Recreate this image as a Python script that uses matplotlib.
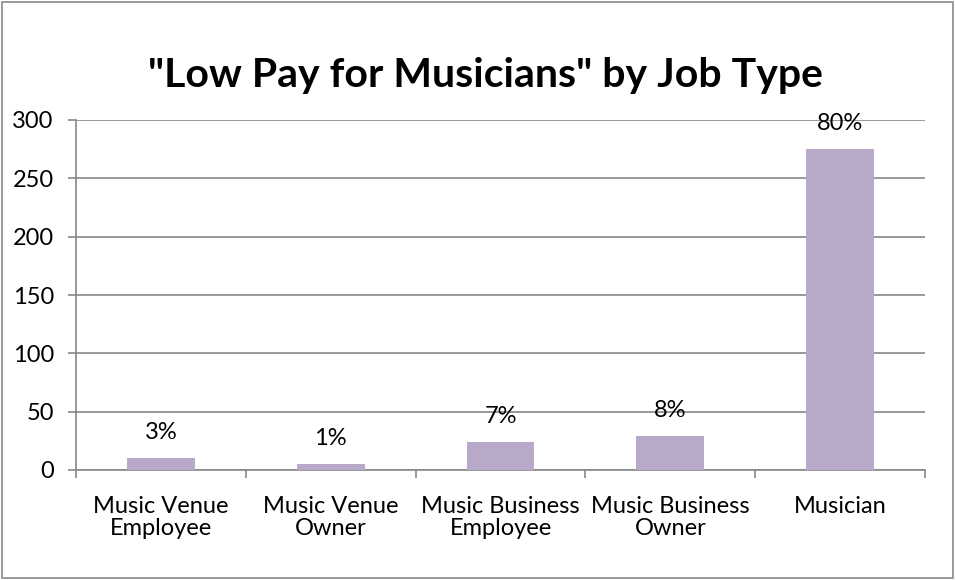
import matplotlib.pyplot as plt
import numpy as np

# data
categories = ['Music Venue\nEmployee', 'Music Venue\nOwner', 'Music Business\nEmployee',
              'Music Business\nOwner', 'Musician']
counts = [10, 5, 24, 29, 275]
pct_labels = ['3%', '1%', '7%', '8%', '80%']

plt.rcParams['font.family'] = ['Lato', 'DejaVu Sans']

fig = plt.figure(figsize=(9.55, 5.8), dpi=100)
ax = fig.add_axes([76 / 955, 1 - 470 / 580, 849 / 955, 350 / 580])

# outer chart border
fig.patches.append(plt.Rectangle((0.002, 0.003), 0.996, 0.994, transform=fig.transFigure,
                                 fill=False, edgecolor='#888888', linewidth=1.2))

x = np.arange(len(categories))
bars = ax.bar(x, counts, width=0.4, color='#b7a9c7', zorder=3)

for b, lab in zip(bars, pct_labels):
    ax.annotate(lab, (b.get_x() + b.get_width() / 2, b.get_height()),
                xytext=(0, 11), textcoords='offset points', ha='center', va='bottom',
                fontsize=17)

ax.set_xlim(-0.5, len(categories) - 0.5)
ax.set_ylim(0, 300)
ax.set_yticks(range(0, 301, 50))
ax.yaxis.grid(True, color='#888888', linewidth=1.2, zorder=0)
ax.tick_params(axis='y', labelsize=17, color='#888888', length=6, width=1.2, pad=10)

# category separators as x ticks
ax.set_xticks(np.arange(-0.5, len(categories) + 0.5, 1))
ax.set_xticklabels([])
ax.set_xticks(x, minor=True)
ax.set_xticklabels(categories, minor=True, fontsize=17, linespacing=1.05)
ax.tick_params(axis='x', which='major', color='#888888', length=6, width=1.2)
ax.tick_params(axis='x', which='minor', length=0, pad=19)

for s in ['top', 'right']:
    ax.spines[s].set_visible(False)
for s in ['left', 'bottom']:
    ax.spines[s].set_color('#888888')
    ax.spines[s].set_linewidth(1.2)

fig.text(485 / 955, 1 - 76 / 580, '"Low Pay for Musicians" by Job Type', ha='center',
         va='center', fontsize=29.5, fontweight='bold')

fig.savefig('out.png', dpi=100)
